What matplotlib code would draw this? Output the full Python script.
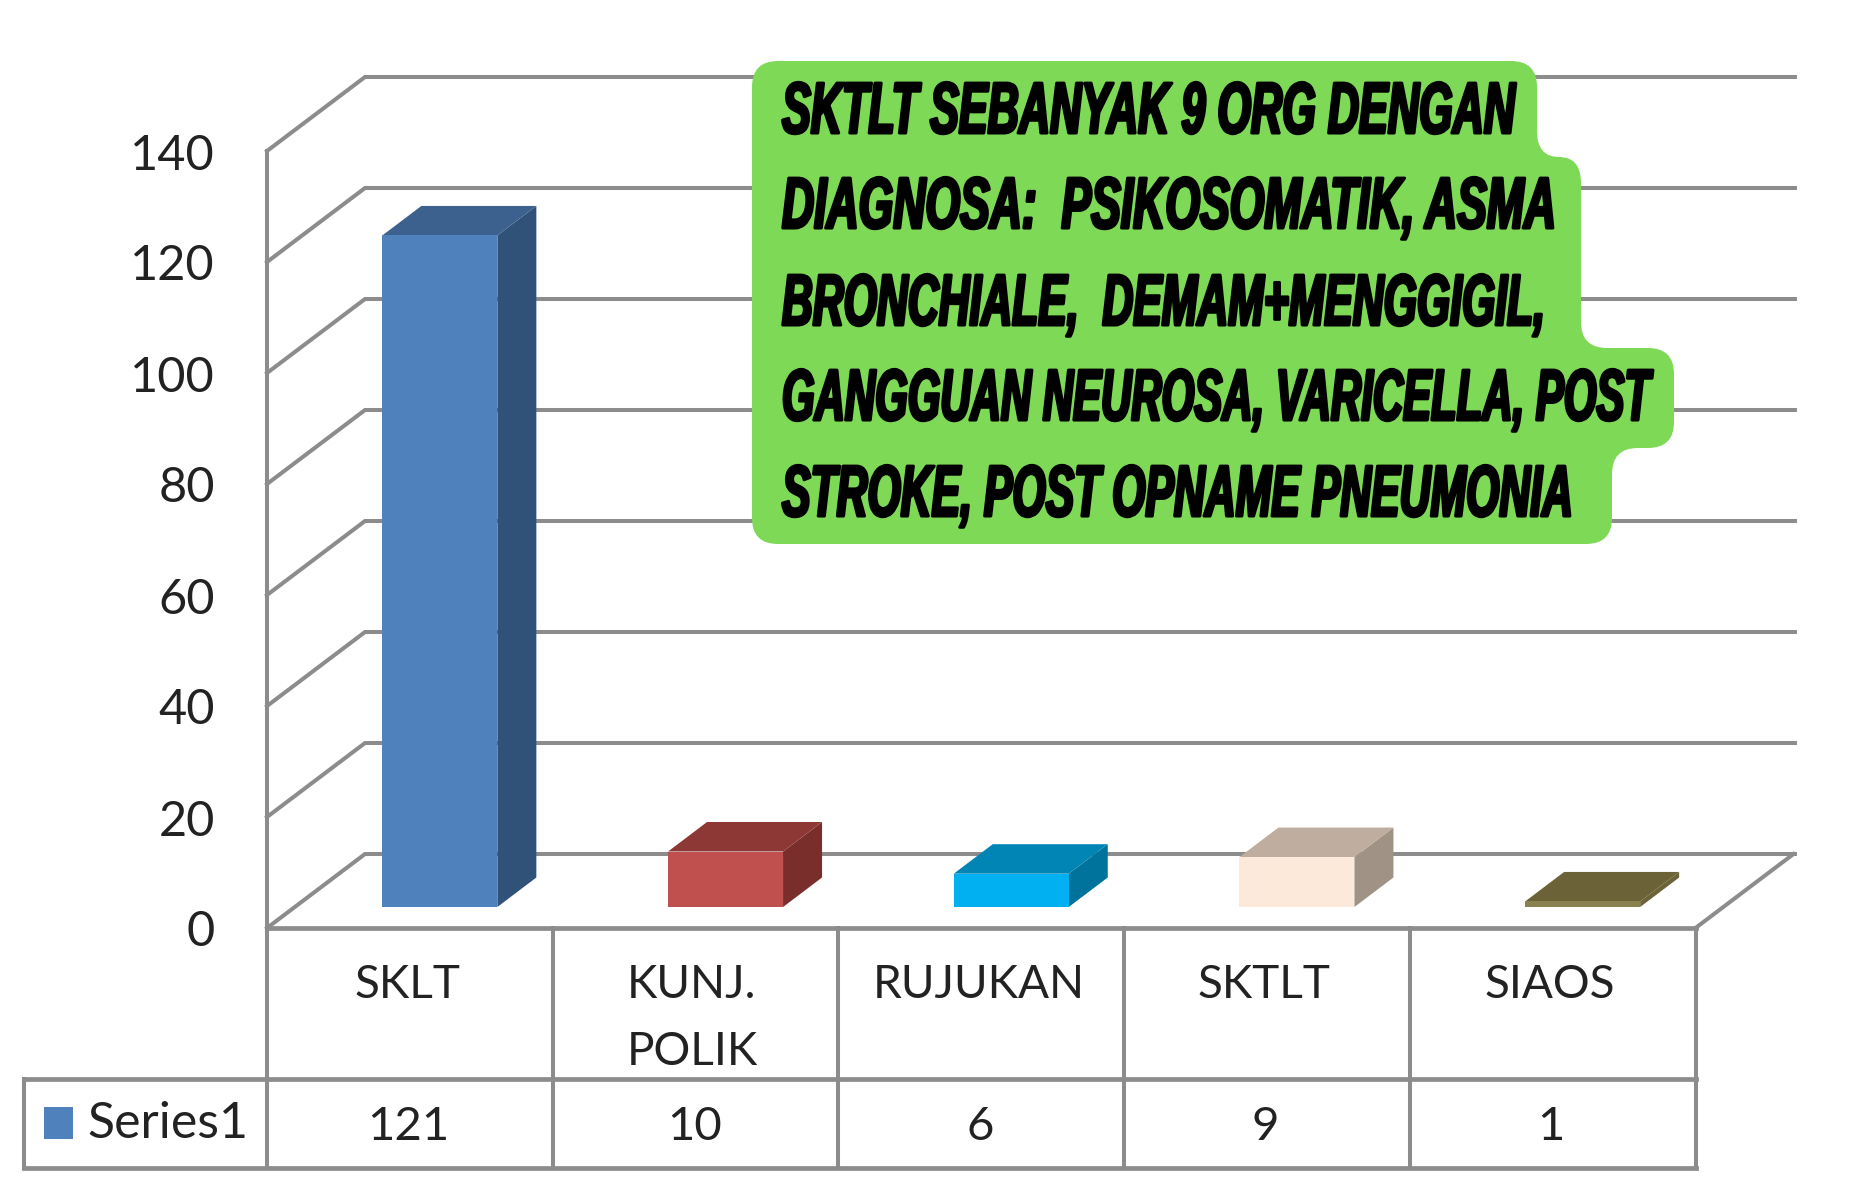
import matplotlib
matplotlib.use('Agg')
import matplotlib.pyplot as plt
from matplotlib.path import Path
from matplotlib.patches import PathPatch
from matplotlib.patheffects import AbstractPathEffect
from matplotlib.transforms import Affine2D

# chart data
categories = ['SKLT', 'KUNJ.\nPOLIK', 'RUJUKAN', 'SKTLT', 'SIAOS']
values = [121, 10, 6, 9, 1]
y_ticks = [0, 20, 40, 60, 80, 100, 120, 140]
series_name = 'Series1'

front_colors = ['#4F81BD', '#C0504D', '#00B0F0', '#FDE9D9', '#8A8150']
side_colors = ['#305278', '#7A2E2C', '#00739C', '#A09386', '#6B6238']
top_colors = ['#3D618E', '#8E3836', '#0085B5', '#BFAE9F', '#6B6238']

note_lines = ['SKTLT SEBANYAK 9 ORG DENGAN',
              'DIAGNOSA:  PSIKOSOMATIK, ASMA',
              'BRONCHIALE,  DEMAM+MENGGIGIL,',
              'GANGGUAN NEUROSA, VARICELLA, POST',
              'STROKE, POST OPNAME PNEUMONIA']
note_right = [1515, 1556, 1545, 1650, 1573]
note_base = [133, 228, 325, 420, 516]
note_left = 782
note_box = [(752, 61), (1537, 61), (1537, 157), (1581, 157), (1581, 348),
            (1674, 348), (1674, 448), (1612, 448), (1612, 544), (752, 544)]

W, H = 1867, 1185
UX = 285.7   # px per category
UY = 5.55    # px per value unit
X0, Y0 = 267, 928  # pixel of the chart origin

GRID = '#8C8C8C'
LW = 2.9
FONT = 'Lato'
TXT = '#222222'

# oblique depth of the chart, and where the bars sit in it
DX, DY = 98 / UX, 74 / UY
BAR_DX, BAR_DY = 30 / UX, 21 / UY
BAR_DEPTH_X, BAR_DEPTH_Y = 39 / UX, 29.5 / UY
BAR_W = 115 / UX
ROW1, ROW2 = -(1079 - Y0) / UY, -(1168 - Y0) / UY
LEG_X = (24 - X0) / UX


class Squash(AbstractPathEffect):
    # scales the glyphs around the text origin, and thickens them
    def __init__(self, sx, sy, stroke):
        super().__init__()
        self.sx, self.sy, self.stroke = sx, sy, stroke

    def draw_path(self, renderer, gc, tpath, affine, rgbFace=None):
        gc0 = renderer.new_gc()
        gc0.copy_properties(gc)
        gc0.set_linewidth(self.stroke)
        gc0.set_foreground('black')
        renderer.draw_path(gc0, tpath, Affine2D().scale(self.sx, self.sy) + affine, rgbFace)
        gc0.restore()


def rounded_path(pts, r):
    verts, codes = [], []
    n = len(pts)
    for i in range(n):
        px, py = pts[i - 1]
        cx, cy = pts[i]
        nx, ny = pts[(i + 1) % n]
        d1 = abs(cx - px) + abs(cy - py)
        d2 = abs(nx - cx) + abs(ny - cy)
        r1 = min(r, d1 / 2)
        r2 = min(r, d2 / 2)
        start = (cx - (cx - px) / d1 * r1, cy - (cy - py) / d1 * r1)
        end = (cx + (nx - cx) / d2 * r2, cy + (ny - cy) / d2 * r2)
        verts.append(start)
        codes.append(Path.MOVETO if i == 0 else Path.LINETO)
        verts += [(cx, cy), end]
        codes += [Path.CURVE3, Path.CURVE3]
    verts.append(verts[0])
    codes.append(Path.CLOSEPOLY)
    return Path(verts, codes)


fig = plt.figure(figsize=(W / 100, H / 100), dpi=100, facecolor='white')
ax = fig.add_axes([0, 0, 1, 1])
ax.set_xlim(-X0 / UX, (W - X0) / UX)
ax.set_ylim(-(H - Y0) / UY, Y0 / UY)
ax.axis('off')

# wall grid lines, left wall and floor
for v in y_ticks:
    ax.plot([0, DX, 5 + DX + 0.005], [v, v + DY, v + DY], color=GRID, lw=LW, solid_joinstyle='miter', zorder=1)
    ax.text(-52 / UX, v - 4.5 / UY, str(v), ha='right', va='center', fontsize=35, family=FONT, color=TXT)
ax.plot([0, 0], [ROW2, y_ticks[-1]], color=GRID, lw=LW, zorder=1)
ax.plot([5 + DX, 5], [DY, 0], color=GRID, lw=LW, zorder=1)

# bars: front faces from ax.bar, then the side and top faces
xs = [i + 0.5 + BAR_DX for i in range(len(values))]
ax.bar(xs, values, width=BAR_W, bottom=BAR_DY, color=front_colors, zorder=3)
for x, v, cs, ct in zip(xs, values, side_colors, top_colors):
    l, r = x - BAR_W / 2, x + BAR_W / 2
    b, t = BAR_DY, BAR_DY + v
    ax.fill([r, r + BAR_DEPTH_X, r + BAR_DEPTH_X, r],
            [b, b + BAR_DEPTH_Y, t + BAR_DEPTH_Y, t], color=cs, lw=0, zorder=2)
    ax.fill([l, l + BAR_DEPTH_X, r + BAR_DEPTH_X, r],
            [t, t + BAR_DEPTH_Y, t + BAR_DEPTH_Y, t], color=ct, lw=0, zorder=2)

# data table
ax.plot([0, 5], [0, 0], color=GRID, lw=LW + 0.5, zorder=4)
ax.plot([LEG_X, 5], [ROW1, ROW1], color=GRID, lw=LW + 0.5, zorder=4)
ax.plot([LEG_X, 5], [ROW2, ROW2], color=GRID, lw=LW + 0.5, zorder=4)
ax.plot([LEG_X, LEG_X], [ROW1, ROW2], color=GRID, lw=LW, zorder=4)
for i in range(1, len(values) + 1):
    ax.plot([i, i], [0, ROW2], color=GRID, lw=LW, zorder=4)
for i, (c, v) in enumerate(zip(categories, values)):
    if '\n' in c:
        top, bottom = c.split('\n')
        ax.text(i + 0.26, -(998 - Y0) / UY, top, ha='left', va='baseline',
                fontsize=33, family=FONT, color=TXT)
        ax.text(i + 0.26, -(1065 - Y0) / UY, bottom, ha='left', va='baseline',
                fontsize=33, family=FONT, color=TXT)
    else:
        ax.text(i + 0.49, -(998 - Y0) / UY, c, ha='center', va='baseline',
                fontsize=33, family=FONT, color=TXT)
    ax.text(i + 0.495, -(1127 - Y0) / UY, str(v), ha='center', va='center',
            fontsize=34, family=FONT, color=TXT)
ax.bar([(58 - X0) / UX], [32 / UY], width=29 / UX, bottom=-(1139 - Y0) / UY, color=front_colors[0])
ax.text((87 - X0) / UX, -(1138 - Y0) / UY, series_name, ha='left', va='baseline',
        fontsize=36, family=FONT, color=TXT)

# green note on top, in pixel coordinates
ov = fig.add_axes([0, 0, 1, 1], facecolor='none')
ov.set_xlim(0, W)
ov.set_ylim(H, 0)
ov.axis('off')
ov.add_patch(PathPatch(rounded_path(note_box, 26), facecolor='#7ED957', edgecolor='none'))

fig.canvas.draw()
rend = fig.canvas.get_renderer()
for line, right, base in zip(note_lines, note_right, note_base):
    t = ov.text(note_left, base, line, ha='left', va='baseline', fontsize=36, color='black',
                family=['Liberation Sans Narrow', 'Liberation Sans'],
                fontweight='bold', fontstyle='italic')
    w = t.get_window_extent(rend).width
    t.set_path_effects([Squash((right - note_left) / w, 1.45, 2.2)])

fig.savefig('out.png', dpi=100)
